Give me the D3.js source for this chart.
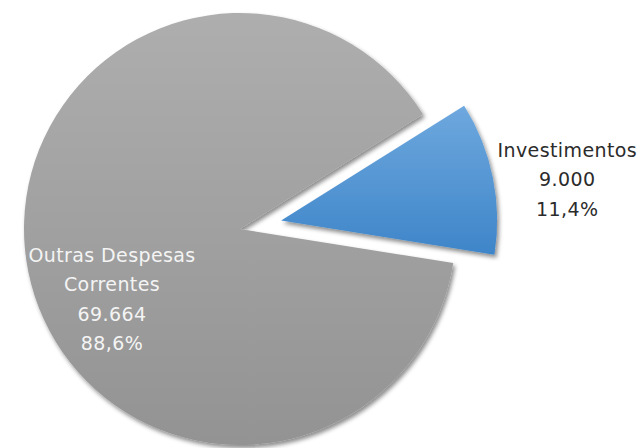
<!DOCTYPE html>
<html>
<head>
<meta charset="utf-8">
<script src="https://cdn.jsdelivr.net/npm/d3@7"></script>
<style>
  body { margin: 0; background: #fff; }
  svg { display: block; }
  text { font-family: "DejaVu Sans", sans-serif; }
</style>
</head>
<body>
<div id="chart"></div>
<script>
// data
var categories = ['Investimentos', 'Outras Despesas Correntes'],
    values = [9000, 69664],
    valueLabels = ['9.000', '69.664'],
    percentLabels = ['11,4%', '88,6%'],
    labelLines = [['Investimentos'], ['Outras Despesas', 'Correntes']]

var width = 642,
    height = 448,
    cx = 240, cy = 229,
    radius = 216,
    explode = 42,
    startDeg = 57.9

var styles = [
  { top: '#6ea8de', bottom: '#3e85c9', text: '#2b2b2b', labelR: 292, dx: 0, dy: 18 },
  { top: '#aeaeae', bottom: '#939393', text: '#f4f4f4', labelR: 146, dx: 0, dy: 0 }
]

var svg = d3.select('#chart').append('svg')
    .attr('width', width)
    .attr('height', height)

var defs = svg.append('defs')

var shadow = defs.append('filter')
    .attr('id', 'shadow')
    .attr('x', '-10%').attr('y', '-10%')
    .attr('width', '130%').attr('height', '130%')
shadow.append('feDropShadow')
    .attr('dx', 2).attr('dy', 3)
    .attr('stdDeviation', 2.2)
    .attr('flood-color', '#000')
    .attr('flood-opacity', 0.45)

styles.forEach(function(s, i) {
  var g = defs.append('linearGradient')
      .attr('id', 'grad' + i)
      .attr('x1', 0).attr('y1', 0).attr('x2', 0).attr('y2', 1)
  g.append('stop').attr('offset', '0%').attr('stop-color', s.top)
  g.append('stop').attr('offset', '100%').attr('stop-color', s.bottom)
})

var start = startDeg * Math.PI / 180

var pie = d3.pie()
    .sort(null)
    .startAngle(start)
    .endAngle(start + 2 * Math.PI)

var arcs = pie(values)

var arc = d3.arc()
    .innerRadius(0)
    .outerRadius(radius)

function offsetOf(d, dist) {
  var a = (d.startAngle + d.endAngle) / 2
  return [Math.sin(a) * dist, -Math.cos(a) * dist]
}

var vis = svg.append('g')
    .attr('transform', 'translate(' + cx + ',' + cy + ')')

// draw gray first so blue shadow sits on top
var order = [1, 0]

order.forEach(function(i) {
  var d = arcs[i],
      off = i === 0 ? offsetOf(d, explode) : [0, 0]
  vis.append('path')
      .attr('d', arc(d))
      .attr('transform', 'translate(' + off[0] + ',' + off[1] + ')')
      .attr('fill', 'url(#grad' + i + ')')
      .attr('filter', 'url(#shadow)')
})

// labels
var lineH = 29.3

arcs.forEach(function(d, i) {
  var s = styles[i],
      base = i === 0 ? offsetOf(d, explode) : [0, 0],
      a = (d.startAngle + d.endAngle) / 2,
      lx = base[0] + Math.sin(a) * s.labelR + s.dx,
      ly = base[1] - Math.cos(a) * s.labelR + s.dy
  if (i === 1) {
    // excel "best fit" pushes the big label down-left
    lx = -128
    ly = 71
  }
  var lines = labelLines[i].concat([valueLabels[i], percentLabels[i]])
  var t = vis.append('text')
      .attr('text-anchor', 'middle')
      .attr('fill', s.text)
      .attr('font-size', 19)
      .attr('letter-spacing', 0.4)
  lines.forEach(function(l, k) {
    t.append('tspan')
        .attr('x', lx)
        .attr('y', ly + (k - (lines.length - 1) / 2) * lineH + 6)
        .text(l)
  })
})
</script>
</body>
</html>
